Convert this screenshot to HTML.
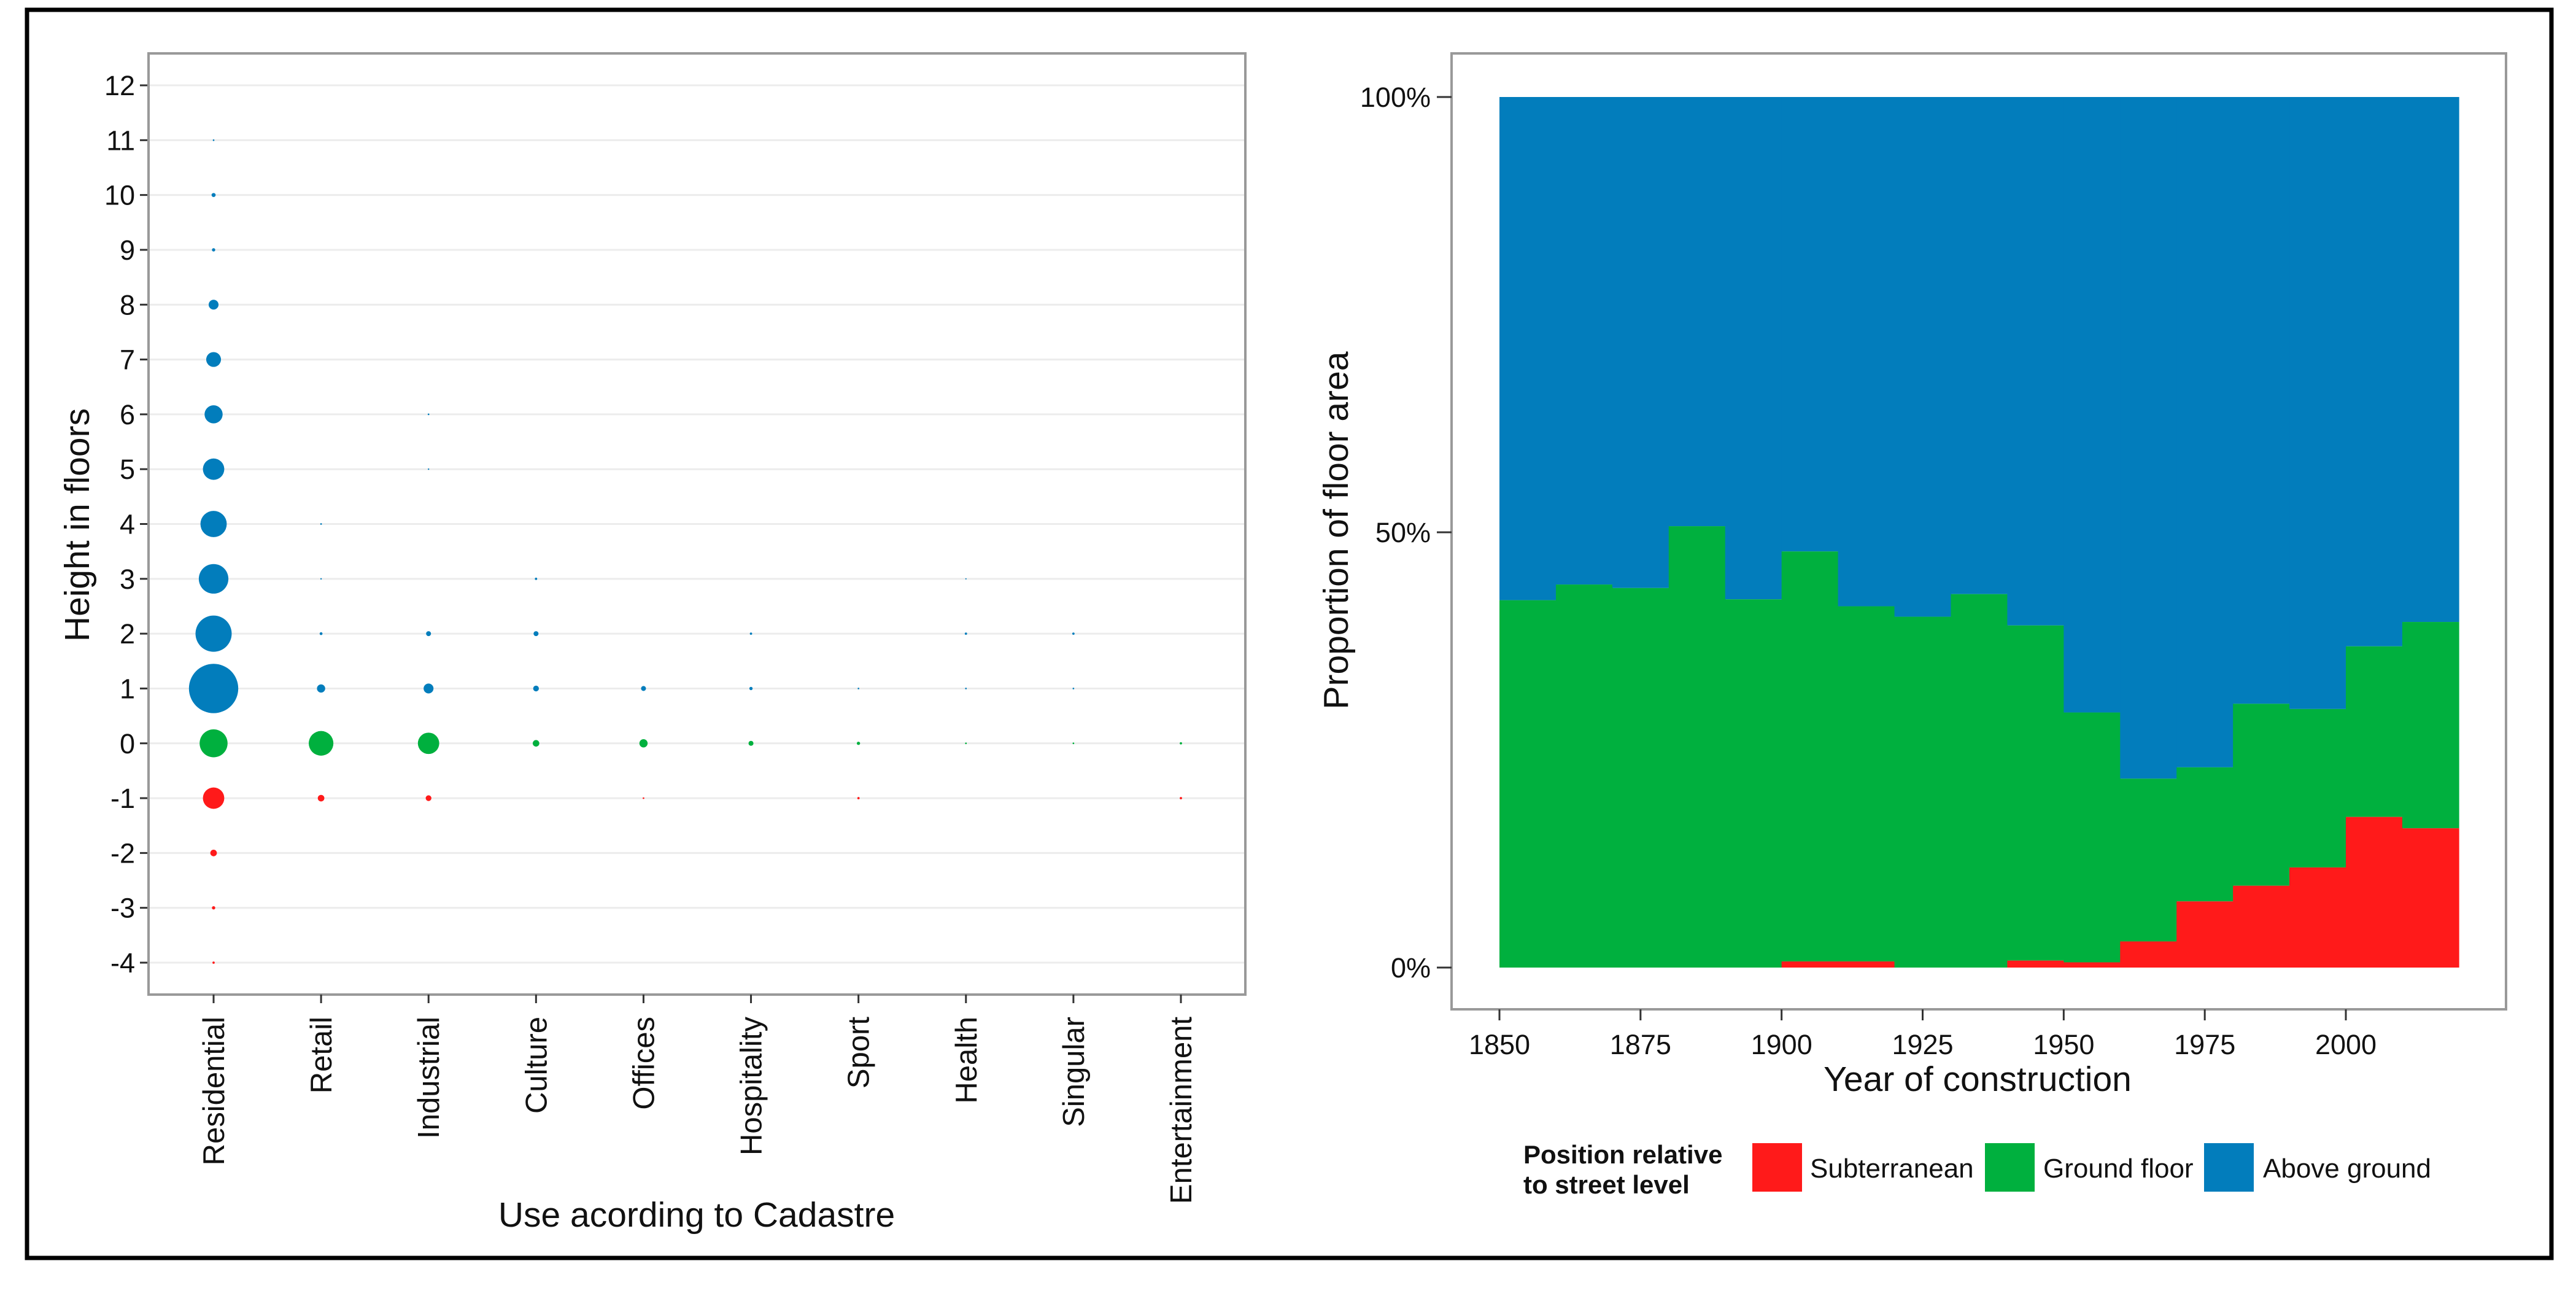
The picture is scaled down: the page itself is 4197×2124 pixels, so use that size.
<!DOCTYPE html>
<html><head><meta charset="utf-8">
<style>
html,body{margin:0;padding:0;background:#fff;}
svg{display:block;font-family:"Liberation Sans",Arial,sans-serif;}
</style></head>
<body>
<svg id="chart" width="4197" height="2124" viewBox="0 0 4197 2124" xmlns="http://www.w3.org/2000/svg">
<rect x="44" y="16" width="4113" height="2033" fill="#fff" stroke="#000" stroke-width="7"/>
<g id="left"></g>
<g id="right"></g>
</svg>
<script>
// ---- Left chart data ----
const categories = ["Residential","Retail","Industrial","Culture","Offices","Hospitality","Sport","Health","Singular","Entertainment"];
const yTicks = [12,11,10,9,8,7,6,5,4,3,2,1,0,-1,-2,-3,-4];
// points: category index, floor level, relative count
const ptCat =   [0,0,0,0,0,0,0,0,0,0,0,0,0,0,0,0, 1,1,1,1,1,1, 2,2,2,2,2,2, 3,3,3,3, 4,4,4, 5,5,5, 6,6,6, 7,7,7,7, 8,8,8, 9,9];
const ptFloor = [11,10,9,8,7,6,5,4,3,2,1,0,-1,-2,-3,-4, 4,3,2,1,0,-1, 6,5,2,1,0,-1, 3,2,1,0, 1,0,-1, 2,1,0, 1,0,-1, 3,2,1,0, 2,1,0, 0,-1];
const ptCount = [1,6,4,36,81,121,169,256,324,484,900,289,169,16,4,2, 1,0.8,3,25,225,16, 1,0.8,9,36,169,12, 2,9,12,16, 9,25,1, 2,4,9, 1,4,2, 0.6,2,1,1, 2,1,1, 2,2];
const levelColor = v => v>0 ? "#027dbc" : (v===0 ? "#00b03e" : "#ff1a1a");

// ---- Right chart data ----
const bins = [1850,1860,1870,1880,1890,1900,1910,1920,1930,1940,1950,1960,1970,1980,1990,2000,2010];
const subterranean = [0,0,0,0,0,0.7,0.7,0,0,0.8,0.6,3.0,7.6,9.4,11.5,17.3,16.0];
const groundFloor  = [42.2,44.0,43.6,50.7,42.3,47.1,40.8,40.3,42.9,38.5,28.7,18.7,15.4,20.9,18.2,19.6,23.7];
const xTickYears = [1850,1875,1900,1925,1950,1975,2000];
const yTickPct = [0,50,100];
const yTickLabels = ["0%","50%","100%"];
const legendLabels = ["Subterranean","Ground floor","Above ground"];

const NS="http://www.w3.org/2000/svg";
function mk(parent,tag,attrs,text){const e=document.createElementNS(NS,tag);for(const k in attrs)e.setAttribute(k,attrs[k]);if(text!==undefined)e.textContent=text;parent.appendChild(e);return e;}

// ---- Left chart ----
const L=document.getElementById("left");
const lx0=242,lx1=2029,ly0=87,ly1=1620;
const yL=v=>139+(12-v)*(1568-139)/16;
const xL=i=>348+i*(1924-348)/9;
const rL=c=>1.339*Math.sqrt(c);
const lp=mk(L,"rect",{x:lx0,y:ly0,width:lx1-lx0,height:ly1-ly0,fill:"#fff"});


yTicks.forEach(v=>{
  const g=mk(L,"line",{x1:lx0,x2:lx1,y1:yL(v),y2:yL(v),stroke:"#ececec","stroke-width":3});
  
  
  const t=mk(L,"line",{x1:lx0-14,x2:lx0,y1:yL(v),y2:yL(v),stroke:"#333","stroke-width":3});
  
  
  const lb=mk(L,"text",{x:lx0-22,y:yL(v)+16,"text-anchor":"end","font-size":45,fill:"#111"},String(v));
  
  
});
ptCat.forEach((c,i)=>{
  const ci=mk(L,"circle",{cx:xL(c),cy:yL(ptFloor[i]),r:rL(ptCount[i]),fill:levelColor(ptFloor[i])});
  
  
});
const lb2=mk(L,"rect",{x:lx0,y:ly0,width:lx1-lx0,height:ly1-ly0,fill:"none",stroke:"#999","stroke-width":4});


categories.forEach((c,i)=>{
  const t=mk(L,"line",{x1:xL(i),x2:xL(i),y1:ly1,y2:ly1+14,stroke:"#333","stroke-width":3});
  
  
  const lb=mk(L,"text",{x:0,y:0,"text-anchor":"end","font-size":49,fill:"#111",transform:`translate(${xL(i)+17},${ly1+36}) rotate(-90)`},c);
  
  
});
const yt=mk(L,"text",{x:0,y:0,"text-anchor":"middle","font-size":57,fill:"#111",transform:"translate(145,855) rotate(-90)"},"Height in floors");


const xt=mk(L,"text",{x:1135,y:1998,"text-anchor":"middle","font-size":57,fill:"#111"},"Use acording to Cadastre");



// ---- Right chart ----
const R=document.getElementById("right");
const rx0=2365,rx1=4083,ry0=87,ry1=1644;
const xR=yr=>2443+(yr-1850)*(3822-2443)/150;
const yR=p=>1576-p*(1576-158)/100;
const rp=mk(R,"rect",{x:rx0,y:ry0,width:rx1-rx0,height:ry1-ry0,fill:"#fff",stroke:"#999","stroke-width":4});


bins.forEach((b,i)=>{
  const x=xR(b),w=xR(b+10)-xR(b)+0.8;
  const s=subterranean[i],g=groundFloor[i];
  const ab=mk(R,"rect",{x:x,y:yR(100),width:w,height:yR(s+g)-yR(100),fill:"#027dbc"});
  
  
  const gr=mk(R,"rect",{x:x,y:yR(s+g),width:w,height:yR(s)-yR(s+g),fill:"#00b03e"});
  
  
  const su=mk(R,"rect",{x:x,y:yR(s),width:w,height:yR(0)-yR(s),fill:"#ff1a1a"});
  
  
});
yTickPct.forEach((p,i)=>{
  const t=mk(R,"line",{x1:rx0-24,x2:rx0,y1:yR(p),y2:yR(p),stroke:"#333","stroke-width":3});
  
  
  const lb=mk(R,"text",{x:rx0-34,y:yR(p)+16,"text-anchor":"end","font-size":45,fill:"#111"},yTickLabels[i]);
  
  
});
xTickYears.forEach(yr=>{
  const t=mk(R,"line",{x1:xR(yr),x2:xR(yr),y1:ry1,y2:ry1+18,stroke:"#333","stroke-width":3});
  
  
  const lb=mk(R,"text",{x:xR(yr),y:1717,"text-anchor":"middle","font-size":45,fill:"#111"},String(yr));
  
  
});
const ryt=mk(R,"text",{x:0,y:0,"text-anchor":"middle","font-size":57,fill:"#111",transform:"translate(2196,864) rotate(-90)"},"Proportion of floor area");


const rxt=mk(R,"text",{x:3222,y:1777,"text-anchor":"middle","font-size":57,fill:"#111"},"Year of construction");


// legend
const lt1=mk(R,"text",{x:2482,y:1895,"font-size":42,"font-weight":"bold",fill:"#111"},"Position relative");


const lt2=mk(R,"text",{x:2482,y:1944,"font-size":42,"font-weight":"bold",fill:"#111"},"to street level");


const keyX=[2854,3233,3590],labX=[2949,3329,3687],keyC=["#ff1a1a","#00b03e","#027dbc"];
legendLabels.forEach((l,i)=>{
  const k=mk(R,"rect",{x:keyX[i],y:1861,width:83,height:81,fill:keyC[i],stroke:"#fff","stroke-width":2});
  
  
  const tx=mk(R,"text",{x:labX[i],y:1918,"font-size":44,fill:"#111"},l);
  
  
});
</script>
</body></html>
